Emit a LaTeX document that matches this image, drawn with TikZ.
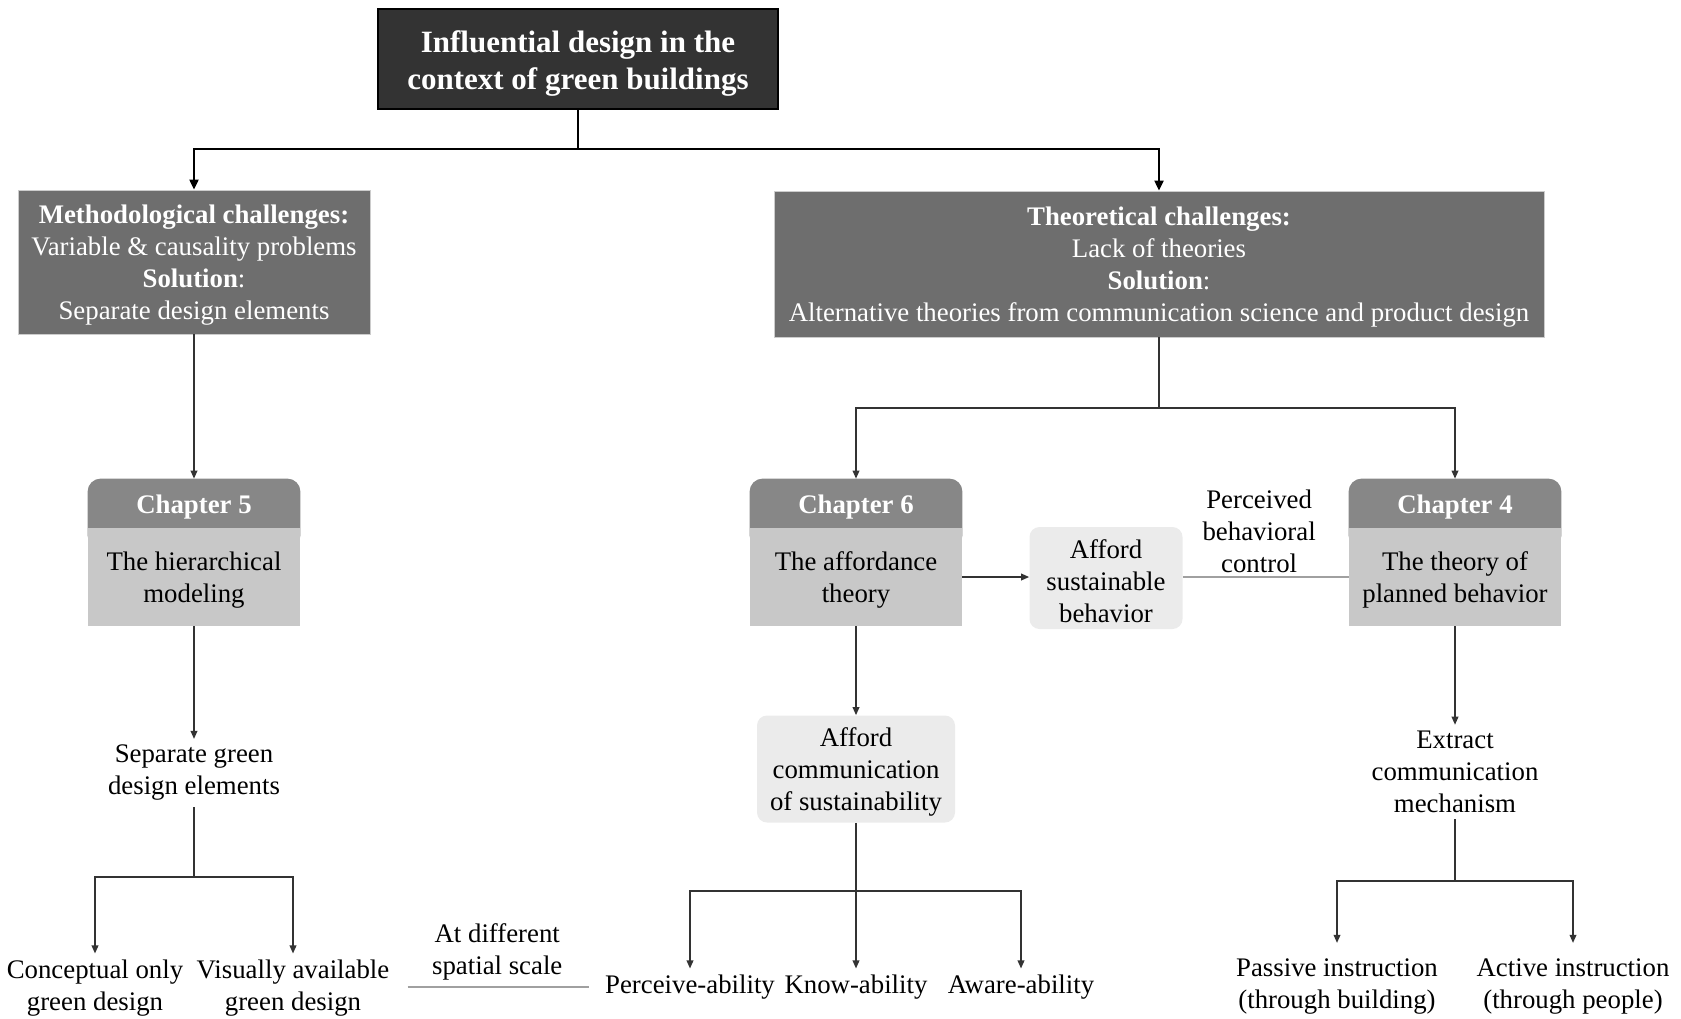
\documentclass[tikz,border=0pt]{standalone}
\usepackage{fontspec}
\setmainfont{Liberation Serif}
\usetikzlibrary{arrows.meta,backgrounds,calc}

\definecolor{titlefill}{HTML}{333333}
\definecolor{challfill}{HTML}{6E6E6E}
\definecolor{headfill}{HTML}{878787}
\definecolor{bodyfill}{HTML}{C8C8C8}
\definecolor{softfill}{HTML}{EBEBEB}
\definecolor{linecol}{HTML}{333333}
\definecolor{faintline}{HTML}{A0A0A0}

% taller first line, pushes box text slightly down
\newcommand{\boxstrut}{\rule{0pt}{12.6pt}}
\newcommand{\titlestrut}{\rule{0pt}{15.5pt}}

\begin{document}
\begin{tikzpicture}[x=0.5pt,y=-0.5pt,
  txt/.style={font=\fontsize{13.4}{16}\selectfont, align=center, inner sep=3pt},
  titlebox/.style={draw=black, line width=1pt, fill=titlefill, text=white,
    font=\fontsize{15.5}{18.8}\selectfont\bfseries, align=center,
    minimum width=200pt, minimum height=50pt, inner sep=2pt},
  challbox/.style={txt, fill=challfill, text=white, draw=black!20, line width=0.4pt},
  chhead/.style={txt, text=white, font=\fontsize{13.4}{16}\selectfont\bfseries,
    minimum width=106pt, minimum height=24.5pt, inner sep=0pt},
  chbody/.style={txt, fill=bodyfill, minimum width=106pt, minimum height=49pt, inner sep=0pt},
  softbox/.style={txt, fill=softfill, rounded corners=5pt},
  mainline/.style={draw=black, line width=1pt},
  mainarr/.style={mainline, -{Triangle[length=5pt,width=4.5pt]}},
  thin/.style={draw=linecol, line width=0.6pt},
  arr/.style={thin, -{Triangle[length=4pt,width=3.4pt]}},
  faint/.style={draw=faintline, line width=0.6pt}
]
\useasboundingbox (0,0) rectangle (1681,1018);

% top level
\node[titlebox] (title) at (578,59) {\titlestrut Influential design in the\\context of green buildings};

\node[challbox, minimum width=176pt, minimum height=72pt] (meth) at (194,262)
  {\boxstrut\textbf{Methodological challenges:}\\Variable \& causality problems\\\textbf{Solution}:\\Separate design elements};
\node[challbox, minimum width=385pt, minimum height=73pt] (theory) at (1159,264)
  {\boxstrut\textbf{Theoretical challenges:}\\Lack of theories\\\textbf{Solution}:\\Alternative theories from communication science and product design};

% chapter boxes: header + body
\node[chhead] (ch5h) at (194,503.5) {\boxstrut Chapter 5};
\node[chbody] (ch5) at (194,577) {\boxstrut The hierarchical\\modeling};
\node[chhead] (ch6h) at (856,503.5) {\boxstrut Chapter 6};
\node[chbody] (ch6) at (856,577) {\boxstrut The affordance\\theory};
\node[chhead] (ch4h) at (1455,503.5) {\boxstrut Chapter 4};
\node[chbody] (ch4) at (1455,577) {\boxstrut The theory of\\planned behavior};

\begin{scope}[on background layer]
  \foreach \h in {ch5h,ch6h,ch4h}
    \fill[headfill, rounded corners=6.5pt] (\h.north west) rectangle ([yshift=-10pt]\h.south east);
\end{scope}

% light boxes
\node[softbox, minimum width=76.5pt, minimum height=51pt] (sust) at (1106,578)
  {\boxstrut Afford\\sustainable\\behavior};
\node[softbox, minimum width=99pt, minimum height=53.5pt] (ac) at (856,769)
  {\boxstrut Afford\\communication\\of sustainability};

% plain text items
\node[txt] (sep) at (194,773) {Separate green\\design elements};
\node[txt] (concept) at (95,988) {Conceptual only\\green design};
\node[txt] (visual) at (293,988) {Visually available\\green design};
\node[txt] (perceive) at (690,987) {Perceive-ability};
\node[txt] (know) at (856,987) {Know-ability};
\node[txt] (aware) at (1021,987) {Aware-ability};
\node[txt] (extract) at (1455,772) {Extract\\communication\\mechanism};
\node[txt] (passive) at (1337,987) {Passive instruction\\(through building)};
\node[txt] (active) at (1573,987) {Active instruction\\(through people)};

% junction points
\coordinate (jt) at (578,149);
\coordinate (jth) at (1159,408);
\coordinate (js) at (194,877);
\coordinate (ja) at (856,891);
\coordinate (je) at (1455,881);

% top split
\draw[mainline] (title.south) -- (jt);
\draw[mainarr] (jt) -| (meth.north);
\draw[mainarr] (jt) -| (theory.north);

% left branch
\draw[arr] (meth.south) -- (ch5h.north);
\draw[arr] (ch5.south) -- (sep.north);
\draw[thin] (sep.south) -- (js);
\draw[arr] (js) -| (concept.north);
\draw[arr] (js) -| (visual.north);
\draw[faint, shorten <=6pt, shorten >=5pt] (visual.east |- perceive.west) -- node[txt, above] {At different\\spatial scale} (perceive.west);

% right branch
\draw[thin] (theory.south) -- (jth);
\draw[arr] (jth) -| (ch6h.north);
\draw[arr] (jth) -| (ch4h.north);
\draw[arr] (ch6.east) -- (ch6.east -| sust.west);
\draw[faint] (sust.east |- ch4.west) -- node[txt, above, inner sep=2pt, pos=0.46] {Perceived\\behavioral\\control} (ch4.west);

\draw[arr] (ch6.south) -- (ac.north);
\draw[arr] (ac.south) -- (know.north);
\draw[arr] (ja) -| (perceive.north);
\draw[arr] (ja) -| (aware.north);

\draw[arr] (ch4.south) -- (extract.north);
\draw[thin] (extract.south) -- (je);
\draw[arr, shorten >=5pt] (je) -| (passive.north);
\draw[arr, shorten >=5pt] (je) -| (active.north);
\end{tikzpicture}
\end{document}
